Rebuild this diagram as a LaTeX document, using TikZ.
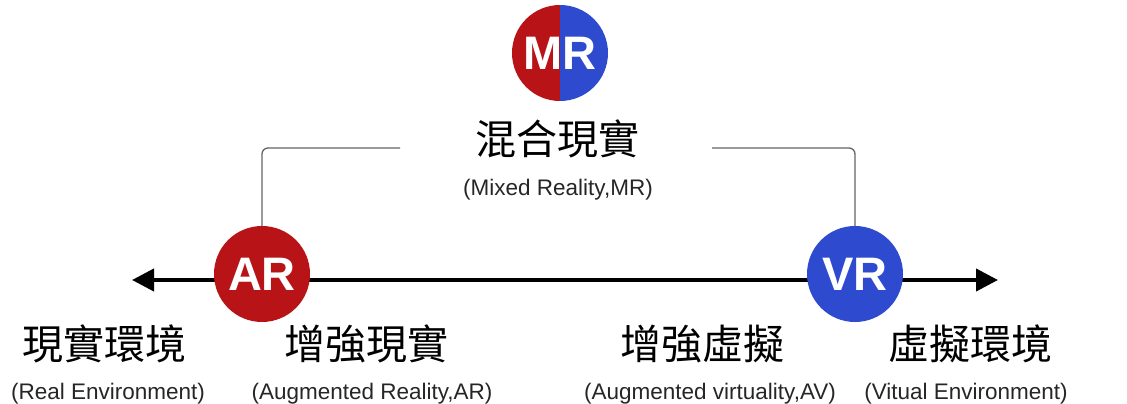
\documentclass[tikz,border=0pt]{standalone}
\usepackage{fontspec}
\setmainfont{Liberation Sans}
\newfontfamily\cjk{Noto Sans CJK TC}
\usetikzlibrary{arrows.meta}
\definecolor{arred}{RGB}{184,20,24}
\definecolor{vrblue}{RGB}{46,74,206}
\definecolor{linegray}{RGB}{100,100,100}
\tikzset{
  badge/.style={circle, minimum size=96pt, inner sep=0pt, text=white, font=\fontsize{47}{47}\selectfont\bfseries},
  zh/.style={font=\cjk\fontsize{41}{41}\selectfont, inner sep=0pt},
  en/.style={font=\fontsize{22.5}{22.5}\selectfont, inner sep=0pt, text=black!85},
  link/.style={draw=linegray, line width=1.3pt, rounded corners=6pt},
  axis/.style={line width=4pt, {Triangle[length=22pt,width=22pt]}-{Triangle[length=22pt,width=22pt]}}
}
\begin{document}
\begin{tikzpicture}[x=1pt,y=-1pt]
\useasboundingbox (0,0) rectangle (1127,404);
% axis
\coordinate (L) at (132,280);
\coordinate (R) at (998,280);
\draw[axis] (L) -- (R);
% badges
\node[badge, fill=arred] (AR) at (262,274) {AR};
\node[badge, fill=vrblue] (VR) at (855,274) {VR};
\node[badge, path picture={
  \fill[arred] (path picture bounding box.south west) rectangle (path picture bounding box.north);
  \fill[vrblue] (path picture bounding box.north) rectangle (path picture bounding box.south east);}] (MR) at (560,53) {MR};
% MR labels
\node[zh] (mrzh) at (557,139) {混合現實};
\node[en] (mren) at (558,190) {(Mixed Reality,MR)};
% connectors
\coordinate (cl) at (400,148);
\coordinate (cr) at (712,148);
\draw[link] (AR.north) |- (cl);
\draw[link] (VR.north) |- (cr);
% bottom labels
\node[zh] (rezh) at (104,344) {現實環境};
\node[en] (reen) at (108,394) {(Real Environment)};
\node[zh] (arzh) at (366,344) {增強現實};
\node[en] (aren) at (372,394) {(Augmented Reality,AR)};
\node[zh] (avzh) at (702,344) {增強虛擬};
\node[en] (aven) at (710,394) {(Augmented virtuality,AV)};
\node[zh] (vezh) at (970,344) {虛擬環境};
\node[en] (veen) at (966,394) {(Vitual Environment)};
\end{tikzpicture}
\end{document}
